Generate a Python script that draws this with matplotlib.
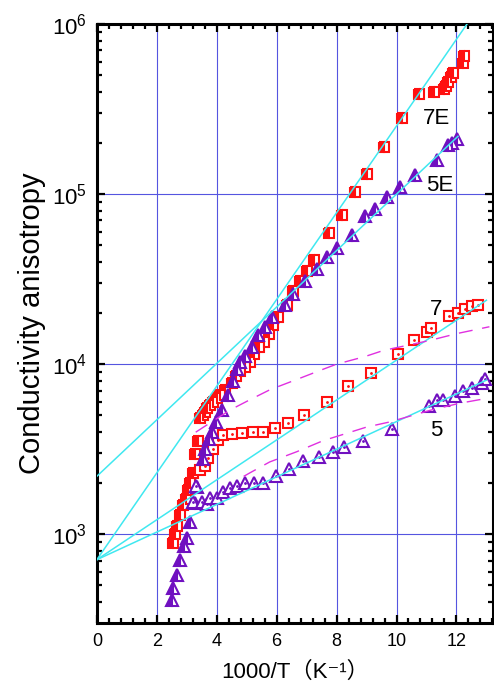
import numpy as np
import matplotlib
matplotlib.use('Agg')
import matplotlib.pyplot as plt
from matplotlib.ticker import LogLocator, MultipleLocator, NullFormatter

plt.rcParams['font.family'] = ['Liberation Sans', 'Noto Sans CJK SC', 'DejaVu Sans']
plt.rcParams['mathtext.fontset'] = 'custom'
plt.rcParams['mathtext.rm'] = 'Liberation Sans'
plt.rcParams['mathtext.it'] = 'Liberation Sans:italic'
plt.rcParams['mathtext.bf'] = 'Liberation Sans:bold'

# 7E : half filled squares
x_7e = [2.54, 2.60, 2.67, 2.77, 2.87, 2.97, 3.04, 3.11, 3.21, 3.27, 3.37, 3.44, 3.54, 3.60,
        3.67, 3.77, 3.87, 4.01, 4.11, 4.27, 4.51, 4.64, 4.77, 4.94, 5.11, 5.24, 5.41, 5.58,
        5.74, 5.88, 6.04, 6.34, 6.55, 6.78, 7.01, 7.25, 7.75, 8.18, 8.61, 9.02, 9.58, 10.18,
        10.75, 11.25, 11.59, 11.65, 11.72, 11.82, 11.89, 12.22, 12.25]
y_7e = [890, 1000, 1120, 1300, 1480, 1620, 1820, 2000, 2290, 2950, 3550, 4840, 5010, 5250,
        5500, 5750, 6030, 6310, 6610, 7080, 7760, 8510, 9120, 9660, 10230, 11480, 12590, 13490,
        15140, 16980, 19050, 22390, 26920, 30900, 35480, 40740, 58880, 75860, 102300, 131800,
        190500, 281800, 389000, 398100, 416900, 431500, 457100, 489800, 512900, 588800, 645700]

# 5E : half filled triangles
x_5e = [2.50, 2.54, 2.67, 2.77, 2.90, 3.00, 3.10, 3.27, 3.35, 3.53, 3.60, 3.73, 3.83, 3.97,
        4.17, 4.37, 4.54, 4.67, 4.77, 4.94, 5.18, 5.38, 5.61, 5.84, 6.28, 6.55, 6.95, 7.35,
        7.68, 8.02, 8.51, 8.95, 9.28, 9.68, 10.12, 10.62, 11.35, 11.72, 11.85, 12.02]
y_5e = [412, 484, 575, 708, 851, 955, 1175, 1530, 1905, 2754, 3162, 3631, 3981, 4571,
        5370, 6607, 7943, 9333, 10230, 11220, 12590, 14790, 16600, 19050, 22390, 25700, 30900,
        36310, 42660, 48420, 57540, 74130, 81280, 96610, 110900, 130300, 158500, 195000,
        199500, 211800]

# 7 : open squares
x_7 = [3.44, 3.60, 3.71, 3.87, 4.04, 4.20, 4.50, 4.84, 5.20, 5.54, 5.94, 6.38, 6.91, 7.68,
       8.38, 9.15, 10.05, 10.58, 11.02, 11.15, 11.75, 12.05, 12.29, 12.52, 12.72]
y_7 = [2399, 2512, 2818, 3162, 3589, 3846, 3890, 3936, 3981, 3981, 4217, 4519, 5012, 5957,
       7413, 8913, 11480, 13800, 15490, 16410, 19280, 19950, 21130, 21880, 22390]

# 5 : open triangles
x_5 = [3.20, 3.30, 3.50, 3.67, 3.77, 4.00, 4.20, 4.44, 4.67, 4.94, 5.24, 5.54, 5.98, 6.41,
       6.88, 7.41, 7.88, 8.25, 8.88, 9.85, 11.08, 11.35, 11.55, 11.95, 12.22, 12.52, 12.85, 12.95]
y_5 = [1549, 1928, 1549, 1514, 1641, 1641, 1778, 1862, 1928, 1995, 1995, 1995, 2188, 2427,
       2692, 2851, 3055, 3236, 3548, 4169, 5689, 6166, 6166, 6531, 6918, 7244, 7762, 8128]

# exponential fits (straight on the log axis), end points
fit_x_7e = [0, 12.35]
fit_y_7e = [708, 1.0e6]
fit_x_5e = [0, 12.05]
fit_y_5e = [2190, 218800]
fit_x_7 = [0, 13.0]
fit_y_7 = [708, 23770]
fit_x_5 = [0, 13.0]
fit_y_5 = [708, 8054]

# model curves (dashed)
dash_x_7 = [3.3, 4.44, 5.1, 5.78, 6.67, 7.55, 8.0, 8.95, 9.55, 11.12, 12.02, 13.1]
dash_y_7 = [3981, 5370, 6166, 7079, 8128, 9333, 10000, 11090, 12020, 13800, 15140, 16600]
dash_x_5 = [4.9, 5.1, 5.77, 6.67, 7.55, 9.0, 9.77, 11.15, 12.1, 13.05]
dash_y_5 = [2188, 2291, 2661, 3055, 3548, 4266, 4571, 5370, 5888, 6310]

red = '#ff1010'
purple = '#7010c0'
cyan = '#40e8f0'
magenta = '#e030e0'

fig = plt.figure(figsize=(4.94, 6.89), dpi=100)
ax = fig.add_axes([0.196, 0.096, 0.802, 0.869])
ax.set_yscale('log')

ax.grid(True, which='major', color='#5555e0', linewidth=0.8, zorder=0)

ax.plot(x_7e, y_7e, linestyle='none', marker='s', markersize=7.5, color=red,
        fillstyle='left', markerfacecoloralt='white', markeredgewidth=1.5, zorder=3)
ax.plot(x_7, y_7, linestyle='none', marker='s', markersize=7.5, markerfacecolor='white',
        markeredgecolor=red, markeredgewidth=1.5, zorder=3)
ax.plot(x_7, y_7, linestyle='none', marker='.', markersize=2, color=red, zorder=4)

ax.plot(x_5e, y_5e, linestyle='none', marker='^', markersize=8.5, color=purple,
        fillstyle='left', markerfacecoloralt='white', markeredgewidth=1.5, zorder=3)
ax.plot(x_5, y_5, linestyle='none', marker='^', markersize=8.5, markerfacecolor='white',
        markeredgecolor=purple, markeredgewidth=1.5, zorder=3)
ax.plot(x_5, y_5, linestyle='none', marker='.', markersize=2, color=purple, zorder=4)

for fx, fy in [(fit_x_7e, fit_y_7e), (fit_x_5e, fit_y_5e), (fit_x_7, fit_y_7), (fit_x_5, fit_y_5)]:
    ax.plot(fx, fy, color=cyan, linewidth=1.1, zorder=5)

for dx, dy in [(dash_x_7, dash_y_7), (dash_x_5, dash_y_5)]:
    ax.plot(dx, dy, color=magenta, linewidth=1.0, dashes=(10, 7), zorder=5)

ax.text(11.33, 2.8e5, '7E', fontsize=16, ha='center', va='center')
ax.text(11.43, 1.12e5, '5E', fontsize=16, ha='center', va='center')
ax.text(11.33, 2.1e4, '7', fontsize=16, ha='center', va='center')
ax.text(11.33, 4070, '5', fontsize=16, ha='center', va='center')

ax.set_xlim(0, 13.22)
ax.set_ylim(301, 1e6)
ax.xaxis.set_major_locator(MultipleLocator(2))
ax.xaxis.set_minor_locator(MultipleLocator(0.4))
ax.yaxis.set_major_locator(LogLocator(base=10, numticks=10))
ax.yaxis.set_minor_locator(LogLocator(base=10, subs=np.arange(2, 10), numticks=20))
ax.yaxis.set_minor_formatter(NullFormatter())

ax.tick_params(which='both', direction='in', top=True, right=True, width=1.6)
ax.tick_params(which='major', length=6)
ax.tick_params(which='minor', length=3.5)
ax.tick_params(axis='x', labelsize=13, pad=7)
ax.tick_params(axis='y', labelsize=16, pad=7)
for sp in ax.spines.values():
    sp.set_linewidth(2.2)

ax.set_xlabel('1000/T（K⁻¹）', fontsize=16, labelpad=9)
ax.set_ylabel('Conductivity anisotropy', fontsize=21, labelpad=4)

fig.savefig('out.png', dpi=100)
